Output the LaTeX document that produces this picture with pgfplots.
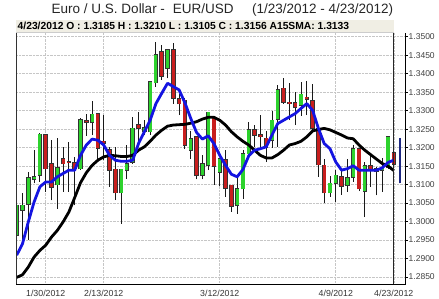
\documentclass[border=0pt]{standalone}
\usepackage{fontspec}
\setmainfont{Liberation Sans}
\usepackage{pgfplots}
\pgfplotsset{compat=1.18}
\usepackage{pgfplotstable}

\definecolor{cgreen}{RGB}{45,210,45}
\definecolor{cred}{RGB}{200,30,30}
\definecolor{cblue}{RGB}{20,20,225}
\definecolor{hdr}{RGB}{240,238,228}
\definecolor{navyb}{RGB}{30,40,130}

\pgfplotstableread{
i O H L C
0 1.2963 1.3067 1.2927 1.3044
1 1.3030 1.3076 1.2954 1.3044
2 1.3048 1.3134 1.2949 1.3118
3 1.3114 1.3193 1.3103 1.3121
4 1.3125 1.3240 1.3107 1.3236
7 1.3100 1.3225 1.3035 1.3145
11 1.3143 1.3279 1.3139 1.3275
13 1.3268 1.3327 1.3234 1.3290
18 1.3078 1.3143 1.2994 1.3141
19 1.3139 1.3207 1.3116 1.3157
20 1.3161 1.3283 1.3157 1.3252
22 1.3243 1.3274 1.3234 1.3253
23 1.3243 1.3380 1.3234 1.3378
24 1.3376 1.3485 1.3365 1.3450
26 1.3414 1.3468 1.3387 1.3464
30 1.3193 1.3244 1.3169 1.3223
32 1.3125 1.3181 1.3114 1.3157
33 1.3152 1.3297 1.3139 1.3295
35 1.3134 1.3172 1.3096 1.3170
38 1.3044 1.3121 1.3021 1.3089
39 1.3089 1.3193 1.3062 1.3184
40 1.3184 1.3268 1.3169 1.3247
44 1.3220 1.3300 1.3199 1.3274
45 1.3277 1.3369 1.3202 1.3357
49 1.3315 1.3378 1.3286 1.3344
54 1.3078 1.3123 1.3067 1.3103
55 1.3103 1.3139 1.3053 1.3125
57 1.3098 1.3170 1.3080 1.3119
58 1.3121 1.3207 1.3107 1.3197
60 1.3082 1.3161 1.3012 1.3150
63 1.3139 1.3172 1.3080 1.3145
64 1.3148 1.3231 1.3143 1.3229
}\up

\pgfplotstableread{
i O H L C
5 1.3234 1.3238 1.3080 1.3143
6 1.3157 1.3220 1.3057 1.3094
8 1.3170 1.3202 1.3080 1.3157
9 1.3162 1.3214 1.3080 1.3160
10 1.3159 1.3175 1.3044 1.3143
12 1.3272 1.3292 1.3232 1.3268
14 1.3292 1.3294 1.3170 1.3199
15 1.3217 1.3288 1.3166 1.3213
16 1.3193 1.3202 1.3094 1.3139
17 1.3141 1.3202 1.3058 1.3078
21 1.3261 1.3295 1.3207 1.3253
25 1.3458 1.3477 1.3383 1.3394
27 1.3464 1.3482 1.3319 1.3333
28 1.3331 1.3344 1.3288 1.3319
29 1.3328 1.3333 1.3197 1.3207
31 1.3229 1.3231 1.3114 1.3125
34 1.3281 1.3283 1.3100 1.3150
36 1.3166 1.3193 1.3067 1.3091
37 1.3098 1.3100 1.3026 1.3042
41 1.3247 1.3261 1.3202 1.3234
42 1.3234 1.3288 1.3197 1.3230
43 1.3225 1.3245 1.3161 1.3202
46 1.3360 1.3387 1.3319 1.3322
47 1.3322 1.3375 1.3274 1.3319
48 1.3321 1.3351 1.3261 1.3310
50 1.3336 1.3381 1.3288 1.3331
51 1.3326 1.3371 1.3244 1.3252
52 1.3252 1.3255 1.3121 1.3154
53 1.3152 1.3169 1.3051 1.3078
56 1.3121 1.3145 1.3073 1.3096
59 1.3197 1.3200 1.3082 1.3089
61 1.3150 1.3178 1.3094 1.3139
62 1.3143 1.3148 1.3071 1.3136
65 1.3185 1.3210 1.3105 1.3156
}\down

\pgfplotstableread{
i blu blk
0 1.2909 1.2849
1 1.2940 1.2856
2 1.2999 1.2877
3 1.3053 1.2904
4 1.3094 1.2922
5 1.3107 1.2936
6 1.3107 1.2958
7 1.3121 1.2976
8 1.3130 1.2999
9 1.3139 1.3026
10 1.3139 1.3065
11 1.3179 1.3105
12 1.3207 1.3132
13 1.3223 1.3152
14 1.3220 1.3166
15 1.3207 1.3175
16 1.3179 1.3179
17 1.3166 1.3178
18 1.3163 1.3176
19 1.3163 1.3176
20 1.3166 1.3179
21 1.3211 1.3193
22 1.3243 1.3202
23 1.3274 1.3217
24 1.3319 1.3234
25 1.3347 1.3247
26 1.3374 1.3258
27 1.3365 1.3261
28 1.3356 1.3262
29 1.3321 1.3263
30 1.3279 1.3266
31 1.3241 1.3270
32 1.3223 1.3277
33 1.3232 1.3282
34 1.3211 1.3282
35 1.3179 1.3274
36 1.3152 1.3261
37 1.3128 1.3243
38 1.3121 1.3229
39 1.3141 1.3217
40 1.3178 1.3207
41 1.3193 1.3193
42 1.3197 1.3179
43 1.3202 1.3172
44 1.3234 1.3172
45 1.3265 1.3181
46 1.3274 1.3193
47 1.3283 1.3207
48 1.3292 1.3211
49 1.3306 1.3217
50 1.3319 1.3229
51 1.3301 1.3245
52 1.3252 1.3249
53 1.3211 1.3252
54 1.3197 1.3248
55 1.3161 1.3241
56 1.3139 1.3234
57 1.3143 1.3226
58 1.3151 1.3224
59 1.3139 1.3207
60 1.3139 1.3193
61 1.3139 1.3181
62 1.3139 1.3169
63 1.3145 1.3157
64 1.3160 1.3150
65 1.3166 1.3138
}\ma

\pgfplotsset{candle/.style={draw=none, mark=none, forget plot, error bars/.cd, y dir=plus, y explicit, error mark=none, error bar style={#1}}}

\begin{document}
\begin{tikzpicture}
\path[use as bounding box] (0pt,0pt) rectangle (439pt,299pt);
\begin{axis}[
 at={(16pt,15pt)}, anchor=south west,
 scale only axis, width=389pt, height=251pt,
 xmin=-0.12, xmax=66.93, ymin=1.28311, ymax=1.3510,
 axis line style={draw=none},
 xtick={5,15,35,55,65},
 xticklabels={1/30/2012,2/13/2012,3/12/2012,4/9/2012,4/23/2012},
 ytick={1.285,1.29,1.295,1.3,1.305,1.31,1.315,1.32,1.325,1.33,1.335,1.34,1.345,1.35},
 ytick pos=right, yticklabel pos=right,
 xtick pos=lower,
 tick align=outside,
 major tick length=2.5pt,
 xtick style={draw=none},
 major tick style={black, line width=0.6pt},
 grid=major,
 major grid style={densely dotted, gray!45, line width=0.6pt},
 /pgf/number format/assume math mode=true,
 yticklabel style={/pgf/number format/fixed, /pgf/number format/fixed zerofill, /pgf/number format/precision=4, font=\fontsize{8.5}{10}\selectfont, text=black!75, anchor=west, inner sep=1pt},
 xticklabel style={font=\fontsize{8.8}{10}\selectfont, text=black!80},
]
% wicks
\addplot[candle={draw=black!90, line width=0.9pt}] table[x=i, y=L, y error expr=\thisrow{H}-\thisrow{L}] {\up};
\addplot[candle={draw=black!90, line width=0.9pt}] table[x=i, y=L, y error expr=\thisrow{H}-\thisrow{L}] {\down};
% bodies: outline
\addplot[candle={draw=black!80, line width=4.5pt}] table[x=i, y expr=\thisrow{O}-0.0002, y error expr=\thisrow{C}-\thisrow{O}+0.0004] {\up};
\addplot[candle={draw=black!80, line width=4.5pt}] table[x=i, y expr=\thisrow{C}-0.0002, y error expr=\thisrow{O}-\thisrow{C}+0.0004] {\down};
% bodies: fill
\addplot[candle={draw=cgreen, line width=3.1pt}] table[x=i, y=O, y error expr=\thisrow{C}-\thisrow{O}] {\up};
\addplot[candle={draw=cred, line width=3.1pt}] table[x=i, y=C, y error expr=\thisrow{O}-\thisrow{C}] {\down};
% moving averages
\addplot[black, line width=2.8pt, line join=round, mark=none] table[x=i, y=blk] {\ma};
\addplot[cblue, line width=2.8pt, line join=round, mark=none] table[x=i, y=blu] {\ma};
% current range bar
\addplot[navyb, line width=2pt, mark=none] coordinates {(66.15,1.3103) (66.15,1.3225)};
\end{axis}
% borders
\draw[black!80, line width=0.6pt] (16pt,15pt) -- (16pt,266pt);
\draw[black, line width=0.8pt] (16pt,15pt) -- (405pt,15pt) -- (405pt,266pt);
\draw[black!85, line width=0.7pt] (393.8pt,15pt) -- (393.8pt,279pt);
% header box
\fill[hdr] (16pt,267pt) rectangle (393.8pt,279pt);
\draw[gray!40, line width=0.4pt] (16pt,267pt) -- (393.8pt,267pt);
\node[anchor=west, font=\bfseries\fontsize{10.3}{12}\selectfont, inner sep=0pt] at (17.5pt,273pt) {4/23/2012 O : 1.3185 H : 1.3210 L : 1.3105 C : 1.3156 A15SMA: 1.3133};
% title
\node[font=\fontsize{13.5}{16}\selectfont, text=black!85, inner sep=0pt] at (222.5pt,289pt) {Euro / U.S. Dollar -\hspace{0.3em} EUR/USD\hspace{1.1em} (1/23/2012 - 4/23/2012)};
\end{tikzpicture}
\end{document}
